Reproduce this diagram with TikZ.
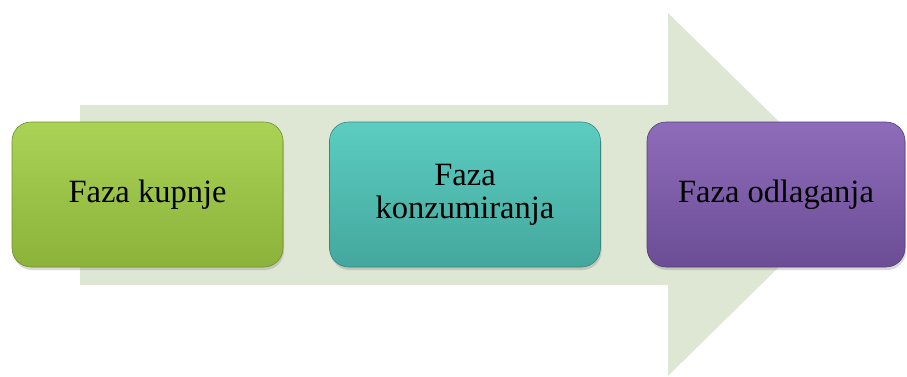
\documentclass[tikz,border=0pt]{standalone}
\usepackage{fontspec}
\setmainfont{Liberation Serif}
\usetikzlibrary{shadows}
\definecolor{arrowfill}{HTML}{DEE7D3}
\definecolor{kupTop}{HTML}{AAD356}
\definecolor{kupBot}{HTML}{8CB23A}
\definecolor{konTop}{HTML}{5CCDC1}
\definecolor{konBot}{HTML}{44A79D}
\definecolor{odlTop}{HTML}{8F6CBB}
\definecolor{odlBot}{HTML}{6B4D95}
\begin{document}
\begin{tikzpicture}[x=1pt,y=1pt,
                    phase node/.style={rectangle,rounded corners=19pt,minimum width=271pt,minimum height=145pt,
                      align=center,text=black,font=\fontsize{32.5}{33}\selectfont,line width=0.6pt,
                      drop shadow={opacity=0.3,shadow xshift=1pt,shadow yshift=-3pt}}
                   ]
  \useasboundingbox (0,0) rectangle (907,376);
  % big arrow behind the phases
  \fill[arrowfill] (80,271) -- (668,271) -- (668,363) -- (853,182) -- (668,0) -- (668,91) -- (80,91) -- cycle;

  \node[phase node,top color=kupTop,bottom color=kupBot,draw=kupBot!80!black] (kupnja) at (147.5,181.5) {Faza kupnje};
  \node[phase node,top color=konTop,bottom color=konBot,draw=konBot!80!black] (konzum) at (465,181.5) {Faza\\konzumiranja};
  \node[phase node,top color=odlTop,bottom color=odlBot,draw=odlBot!80!black,minimum width=258pt] (odlag) at (776,181.5) {Faza odlaganja};
\end{tikzpicture}
\end{document}
